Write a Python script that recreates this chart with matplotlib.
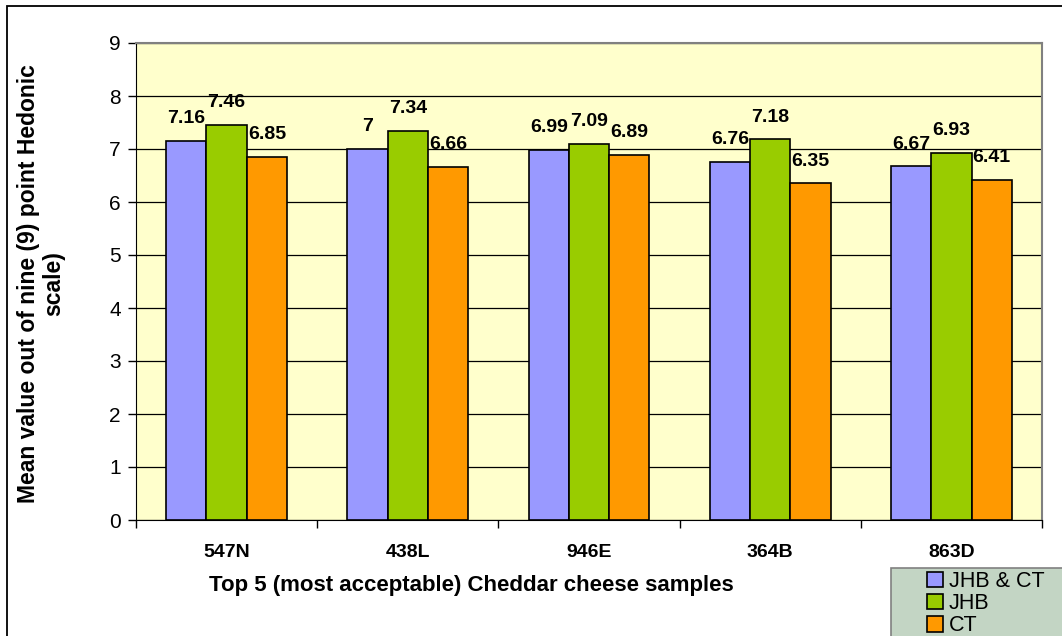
import numpy as np
import matplotlib.pyplot as plt
from matplotlib.patches import Rectangle

plt.rcParams['font.family'] = ['Liberation Sans', 'DejaVu Sans']

samples = ['547N', '438L', '946E', '364B', '863D']
jhb_ct = [7.16, 7.00, 6.99, 6.76, 6.67]
jhb = [7.46, 7.34, 7.09, 7.18, 6.93]
ct = [6.85, 6.66, 6.89, 6.35, 6.41]
labels_jhb_ct = ['7.16', '7', '6.99', '6.76', '6.67']
labels_jhb = ['7.46', '7.34', '7.09', '7.18', '6.93']
labels_ct = ['6.85', '6.66', '6.89', '6.35', '6.41']

series = [('JHB & CT', jhb_ct, labels_jhb_ct, '#9999FF'),
          ('JHB', jhb, labels_jhb, '#99CC00'),
          ('CT', ct, labels_ct, '#FF9900')]

W, H = 1062, 636
fig = plt.figure(figsize=(W / 100, H / 100), dpi=100)
ax = fig.add_axes([136 / W, 1 - 520 / H, (1042 - 136) / W, (520 - 43) / H])
ax.set_facecolor('#FFFFCC')

x = np.arange(len(samples))
w = 0.222
handles = []
for i, (name, vals, labs, col) in enumerate(series):
    pos = x + (i - 1) * w
    b = ax.bar(pos, vals, width=w, color=col, edgecolor='black', linewidth=1.2, zorder=3, label=name)
    handles.append(b)
    for p, v, t in zip(pos, vals, labs):
        ax.annotate(t, (p, v), xytext=(0, 10), textcoords='offset points', ha='center', va='bottom',
                    fontsize=14, fontweight='bold', zorder=4)

ax.set_xlim(-0.5, len(samples) - 0.5)
ax.set_ylim(0, 9)
ax.set_yticks(range(0, 10))
ax.yaxis.grid(True, color='black', linewidth=0.9, zorder=1)
ax.set_axisbelow(True)
ax.tick_params(axis='y', labelsize=15, direction='out', length=6, width=1, pad=5)
ax.set_xticks(x)
ax.set_xticklabels(samples, fontsize=14, fontweight='bold')
ax.tick_params(axis='x', length=0, pad=17)
ax.set_xticks(np.arange(-0.5, len(samples)), minor=True)
ax.tick_params(axis='x', which='minor', direction='out', length=6, width=1)

for s in ['top', 'right']:
    ax.spines[s].set_color('#808080')
    ax.spines[s].set_linewidth(1.5)
ax.spines['left'].set_color('black')
ax.spines['bottom'].set_color('black')

fig.text(41 / W, 1 - 284 / H, 'Mean value out of nine (9) point Hedonic\nscale)', rotation=90,
         ha='center', va='center', multialignment='center', fontsize=16.5, fontweight='bold',
         linespacing=1.15)
fig.text(471 / W, 1 - 586 / H, 'Top 5 (most acceptable) Cheddar cheese samples',
         ha='center', va='center', fontsize=16, fontweight='bold')

# legend background box, running off the edge of the picture
fig.patches.append(Rectangle((891 / W, -0.1), 0.3, 0.1 + 1 - 568 / H, transform=fig.transFigure,
                             facecolor='#C3D5C4', edgecolor='#808080', linewidth=1.2, zorder=5))
leg = fig.legend(handles=handles, loc='upper left', bbox_to_anchor=(927 / W, 1 - 571 / H),
                 fontsize=15.5, frameon=False, handlelength=0.75, handleheight=0.75,
                 handletextpad=0.25, labelspacing=0.05, borderpad=0, borderaxespad=0)
leg.set_zorder(6)

fig.patches.append(Rectangle((7 / W, -0.1), 1.2, 1.1 - 6 / H, transform=fig.transFigure,
                             fill=False, edgecolor='black', linewidth=1.3))

fig.savefig('out.png', dpi=100)
